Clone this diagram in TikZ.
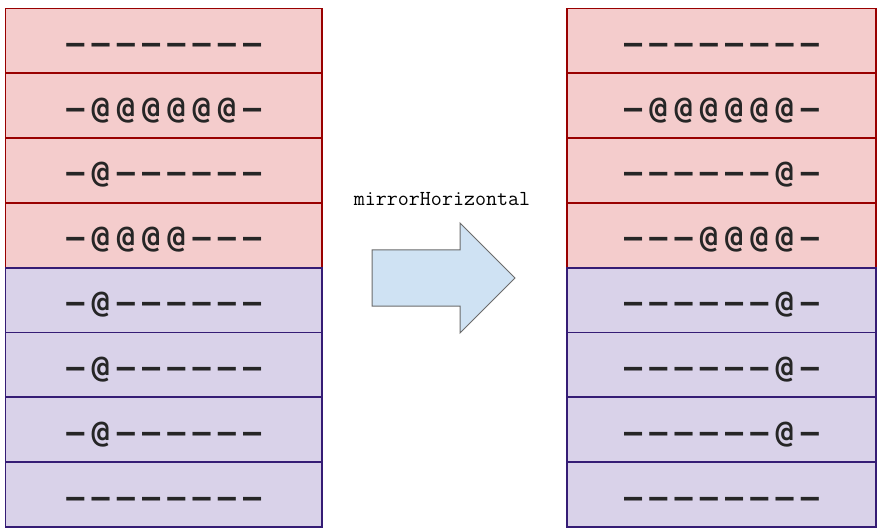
\documentclass[tikz,border=0pt]{standalone}
\usepackage{fontspec}
\usepackage{xcolor}
\newfontfamily\cellfont{DejaVu Sans Mono}[LetterSpace=24]

\definecolor{rowred}{HTML}{F4CCCC}
\definecolor{edgered}{HTML}{990000}
\definecolor{rowpurple}{HTML}{D9D2E9}
\definecolor{edgepurple}{HTML}{351C75}
\definecolor{arrowblue}{HTML}{CFE2F3}
\definecolor{arrowedge}{HTML}{6B6B6B}

\tikzset{
  cell/.style={minimum height=64.8pt, inner sep=0pt, line width=1.8pt,
    text height=25pt, text depth=0pt, text=black!85,
    font=\cellfont\bfseries\fontsize{30}{30}\selectfont},
  redcell/.style={cell, draw=edgered, fill=rowred},
  bluecell/.style={cell, draw=edgepurple, fill=rowpurple},
  leftcell/.style={minimum width=316.5pt},
  rightcell/.style={minimum width=309pt},
  bigarrow/.style={draw=arrowedge, fill=arrowblue, line width=1pt, line join=miter}
}

\begin{document}
\begin{tikzpicture}[x=1pt,y=-1pt]
\useasboundingbox (0,0) rectangle (880,529);
% before
\node[redcell,leftcell] (a1) at (163.8,40.9) {––––––––};
\node[redcell,leftcell] (a2) at (163.8,105.7) {–@@@@@@–};
\node[redcell,leftcell] (a3) at (163.8,170.5) {–@––––––};
\node[redcell,leftcell] (a4) at (163.8,235.3) {–@@@@–––};
\node[bluecell,leftcell] (a5) at (163.8,300.1) {–@––––––};
\node[bluecell,leftcell] (a6) at (163.8,364.9) {–@––––––};
\node[bluecell,leftcell] (a7) at (163.8,429.7) {–@––––––};
\node[bluecell,leftcell] (a8) at (163.8,494.5) {––––––––};
% after
\node[redcell,rightcell] (b1) at (721.5,40.9) {––––––––};
\node[redcell,rightcell] (b2) at (721.5,105.7) {–@@@@@@–};
\node[redcell,rightcell] (b3) at (721.5,170.5) {––––––@–};
\node[redcell,rightcell] (b4) at (721.5,235.3) {–––@@@@–};
\node[bluecell,rightcell] (b5) at (721.5,300.1) {––––––@–};
\node[bluecell,rightcell] (b6) at (721.5,364.9) {––––––@–};
\node[bluecell,rightcell] (b7) at (721.5,429.7) {––––––@–};
\node[bluecell,rightcell] (b8) at (721.5,494.5) {––––––––};
% operation
\node[font=\ttfamily\fontsize{21.4}{21.4}\selectfont] (op) at (442,199) {mirrorHorizontal};
\draw[bigarrow] (372,250) -- (460,250) -- (460,223) -- (515,278)
  -- (460,333) -- (460,306) -- (372,306) -- cycle;
\end{tikzpicture}
\end{document}
